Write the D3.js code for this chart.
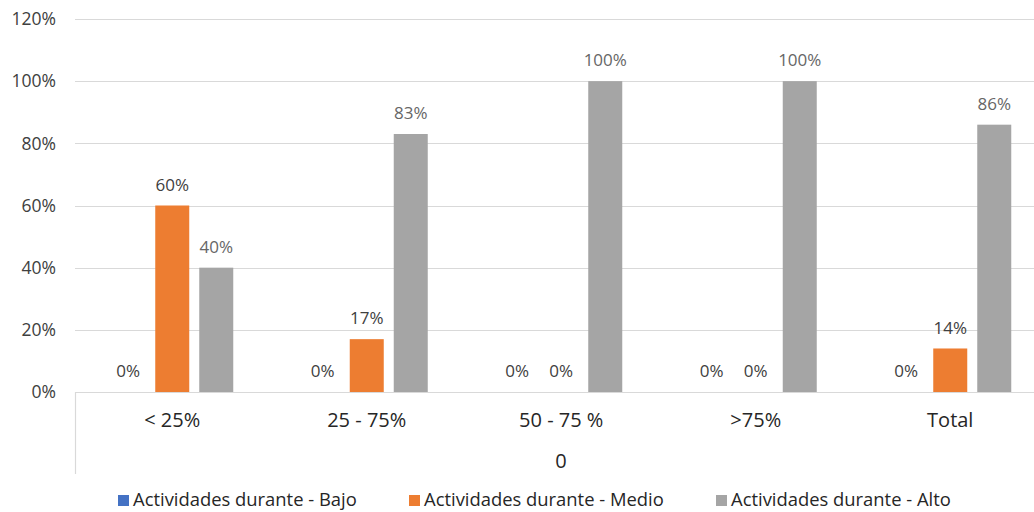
<!DOCTYPE html>
<html><head><meta charset="utf-8">
<script src="https://cdn.jsdelivr.net/npm/d3@7"></script>
<style>body{margin:0;background:#fff}svg{display:block}text{font-family:"Open Sans","Liberation Sans",Arial,sans-serif}</style>
</head><body><svg id="c" width="1034" height="512"></svg>
<script>
const categories = ["< 25%", "25 - 75%", "50 - 75 %", ">75%", "Total"];
const seriesNames = ["Actividades durante - Bajo", "Actividades durante - Medio", "Actividades durante - Alto"];
const bajo = [0, 0, 0, 0, 0];
const medio = [60, 17, 0, 0, 14];
const alto = [40, 83, 100, 100, 86];
const yTicks = [0, 20, 40, 60, 80, 100, 120];
const colors = ["#4472c4", "#ed7d31", "#a5a5a5"];
const labelColors = ["#404040", "#404040", "#666666"];
const outerAxisLabel = "0";

const svg = d3.select("#c");
const plotLeft = 75, plotTop = 19, plotBottom = 392, step = 194.5;
const x = d3.scaleBand().domain(categories).range([plotLeft, plotLeft + step * categories.length]);
const y = d3.scaleLinear().domain([0, 120]).range([plotBottom, plotTop]);
const barW = 34, gap = 10;
const groupOff = (step - (3*barW + 2*gap)) / 2;

svg.append("g").selectAll("line").data(yTicks).join("line")
  .attr("x1", plotLeft).attr("x2", 1034)
  .attr("y1", d => Math.round(y(d)) + 0.5).attr("y2", d => Math.round(y(d)) + 0.5)
  .attr("stroke", "#d9d9d9").attr("stroke-width", 1.2);

svg.append("g").selectAll("text").data(yTicks).join("text")
  .attr("x", 56).attr("y", d => y(d)).attr("dy", "0.36em")
  .attr("text-anchor", "end").attr("font-size", 17.5).attr("fill", "#404040")
  .text(d => d + "%");

svg.append("line").attr("x1", plotLeft + 0.5).attr("x2", plotLeft + 0.5).attr("y1", plotBottom).attr("y2", 474)
  .attr("stroke", "#d9d9d9").attr("stroke-width", 1.2);

const series = [bajo, medio, alto];
series.forEach((vals, si) => {
  const g = svg.append("g");
  const data = vals.map((v, i) => ({v, c: categories[i]}));
  g.selectAll("rect").data(data).join("rect")
    .attr("x", d => x(d.c) + groupOff + si * (barW + gap))
    .attr("width", barW)
    .attr("y", d => y(d.v))
    .attr("height", d => plotBottom - y(d.v))
    .attr("fill", colors[si]);
  g.selectAll("text").data(data).join("text")
    .attr("x", d => x(d.c) + groupOff + si * (barW + gap) + barW / 2)
    .attr("y", d => y(d.v) - 21).attr("dy", "0.36em")
    .attr("text-anchor", "middle").attr("font-size", 17).attr("fill", labelColors[si])
    .text(d => d.v + "%");
});

svg.append("g").selectAll("text").data(categories).join("text")
  .attr("x", d => x(d) + step / 2).attr("y", 420).attr("dy", "0.36em")
  .attr("text-anchor", "middle").attr("font-size", 20).attr("fill", "#262626")
  .text(d => d);

svg.append("text").attr("x", 561).attr("y", 461).attr("dy", "0.36em")
  .attr("text-anchor", "middle").attr("font-size", 20).attr("fill", "#262626").text(outerAxisLabel);

const legX = [118, 409, 716];
seriesNames.forEach((n, i) => {
  svg.append("rect").attr("x", legX[i]).attr("y", 495).attr("width", 11).attr("height", 11).attr("fill", colors[i]);
  svg.append("text").attr("x", legX[i] + 15).attr("y", 499.5).attr("dy", "0.36em")
    .attr("font-size", 18.4).attr("fill", "#262626").text(n);
});
</script></body></html>
